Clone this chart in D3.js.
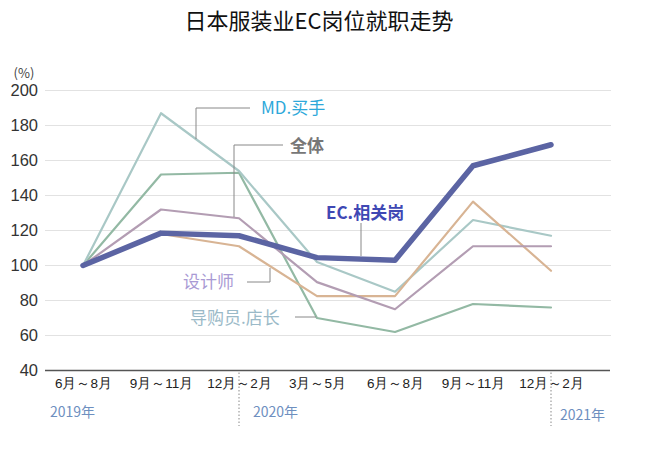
<!DOCTYPE html>
<html>
<head>
<meta charset="utf-8">
<script src="https://cdn.jsdelivr.net/npm/d3@7"></script>
<style>
  body { margin: 0; background: #fff; }
  svg { font-family: "Noto Sans CJK SC", "Noto Sans", sans-serif; }
</style>
</head>
<body>
<div id="chart"></div>
<script>
// Periods (x axis) and year markers
const periods = ['6月～8月', '9月～11月', '12月～2月', '3月～5月', '6月～8月', '9月～11月', '12月～2月'];
const years = [
  { label: '2019年', index: 0 },
  { label: '2020年', index: 2 },
  { label: '2021年', index: 6 }
];
const yTicks = [40, 60, 80, 100, 120, 140, 160, 180, 200];

// Series values (index, 2019年6月～8月 = 100)
const mdBuyer = [100, 187, 154, 102, 85, 126, 117];
const overall = [100, 132, 127, 90.5, 75, 111, 111];
const designer = [100, 118, 111, 82.5, 82.5, 136.5, 97];
const shopStaff = [100, 152, 153, 70, 62, 78, 76];
const ecJobs = [100, 118.5, 117, 104.5, 103, 157, 169];

const width = 645, height = 453;
const svg = d3.select('#chart').append('svg')
  .attr('width', width)
  .attr('height', height);

const x = d3.scalePoint()
  .domain(d3.range(periods.length))
  .range([83, 551]);

const y = d3.scaleLinear()
  .domain([40, 200])
  .range([370.5, 90.5]);

// Title
svg.append('text')
  .attr('x', 319)
  .attr('y', 29)
  .attr('text-anchor', 'middle')
  .attr('font-size', 22)
  .attr('fill', '#111')
  .text('日本服装业EC岗位就职走势');

// Gridlines
svg.append('g')
  .selectAll('line')
  .data(yTicks.filter(d => d > 40))
  .enter().append('line')
  .attr('x1', 45)
  .attr('x2', 611)
  .attr('y1', d => y(d))
  .attr('y2', d => y(d))
  .attr('stroke', '#e2e2e2')
  .attr('stroke-width', 1.2);

// Baseline
svg.append('line')
  .attr('x1', 45).attr('x2', 610)
  .attr('y1', y(40)).attr('y2', y(40))
  .attr('stroke', '#555')
  .attr('stroke-width', 1.3);

// Y axis labels
const yAxis = d3.axisLeft(y).tickValues(yTicks).tickSize(0).tickPadding(0);
const yg = svg.append('g')
  .attr('transform', 'translate(38,0)')
  .call(yAxis);
yg.select('.domain').remove();
yg.selectAll('text')
  .attr('font-size', 16.5)
  .attr('fill', '#333')
  .attr('font-family', '"Liberation Sans", Arial, sans-serif');

svg.append('text')
  .attr('x', 24)
  .attr('y', 78)
  .attr('text-anchor', 'middle')
  .attr('font-size', 13)
  .attr('fill', '#444')
  .text('(%)');

// X axis labels
const xAxis = d3.axisBottom(x).tickFormat(i => periods[i]).tickSize(0).tickPadding(0);
const xg = svg.append('g')
  .attr('transform', 'translate(0,377)')
  .call(xAxis);
xg.select('.domain').remove();
xg.selectAll('text')
  .attr('font-size', 13.5)
  .attr('fill', '#222')
  .attr('dy', '0.85em');

// Year separators
svg.append('g')
  .selectAll('line')
  .data(years.filter(d => d.index > 0))
  .enter().append('line')
  .attr('x1', d => x(d.index))
  .attr('x2', d => x(d.index))
  .attr('y1', y(40) + 2)
  .attr('y2', 426)
  .attr('stroke', '#888')
  .attr('stroke-width', 1)
  .attr('stroke-dasharray', '1.5,2');

// Year labels
svg.append('g')
  .selectAll('text')
  .data(years)
  .enter().append('text')
  .attr('x', d => d.index === 0 ? 50 : x(d.index) + (d.index === 6 ? 9 : 14))
  .attr('y', d => d.index === 6 ? 420 : 417)
  .attr('font-size', 14)
  .attr('fill', '#6e8fbf')
  .text(d => d.label);

// Lines
const line = d3.line()
  .x((d, i) => x(i))
  .y(d => y(d));

const series = [
  { values: shopStaff, color: '#93b9a4', width: 2.2 },
  { values: mdBuyer, color: '#a9c8c6', width: 2.2 },
  { values: designer, color: '#d8b494', width: 2.2 },
  { values: overall, color: '#b39db3', width: 2.2 },
  { values: ecJobs, color: '#5b64a3', width: 5.5 }
];

svg.append('g')
  .selectAll('path')
  .data(series)
  .enter().append('path')
  .attr('d', d => line(d.values))
  .attr('fill', 'none')
  .attr('stroke', d => d.color)
  .attr('stroke-width', d => d.width)
  .attr('stroke-linejoin', 'round')
  .attr('stroke-linecap', 'round');

// Callout leaders
const leader = 'M250,108 H196 V139 M283,145 H234 V217 M247,282 H270 V268 M295,317 H316 M361,223 V256';
svg.append('path')
  .attr('d', leader)
  .attr('fill', 'none')
  .attr('stroke', '#888')
  .attr('stroke-width', 1);

// Callout labels
const labels = [
  { text: 'MD.买手', x: 261, y: 114, color: '#2ea8da', weight: 'normal' },
  { text: '全体', x: 290, y: 152, color: '#777', weight: 'bold' },
  { text: 'EC.相关岗', x: 326, y: 219, color: '#3f48b4', weight: 'bold' },
  { text: '设计师', x: 183, y: 288, color: '#a99ad4', weight: 'normal' },
  { text: '导购员.店长', x: 190, y: 324, color: '#9bbac8', weight: 'normal' }
];

svg.append('g')
  .selectAll('text')
  .data(labels)
  .enter().append('text')
  .attr('x', d => d.x)
  .attr('y', d => d.y)
  .attr('font-size', 17)
  .attr('font-weight', d => d.weight)
  .attr('fill', d => d.color)
  .text(d => d.text);
</script>
</body>
</html>
